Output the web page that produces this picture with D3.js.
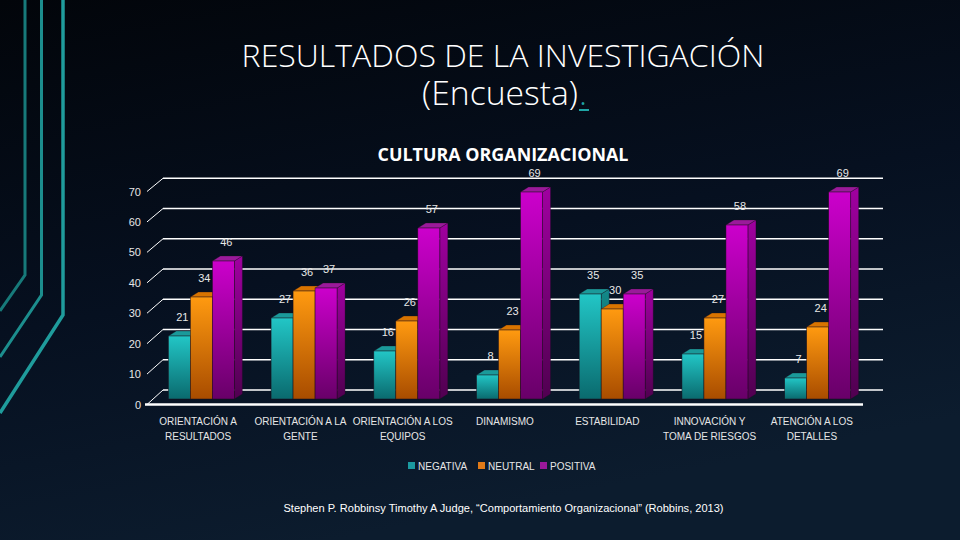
<!DOCTYPE html>
<html><head><meta charset="utf-8">
<script src="https://cdnjs.cloudflare.com/ajax/libs/d3/7.8.5/d3.min.js"></script>
<style>html,body{margin:0;padding:0;background:#050b15;}svg{display:block;}</style>
</head><body>
<svg id="c" width="960" height="540"></svg>
<script>
// ---- data ----
const categories = [
  ["ORIENTACIÓN A", "RESULTADOS"],
  ["ORIENTACIÓN A LA", "GENTE"],
  ["ORIENTACIÓN A LOS", "EQUIPOS"],
  ["DINAMISMO"],
  ["ESTABILIDAD"],
  ["INNOVACIÓN Y", "TOMA DE RIESGOS"],
  ["ATENCIÓN A LOS", "DETALLES"]
];
const seriesNames = ["NEGATIVA", "NEUTRAL", "POSITIVA"];
const negativa = [21, 27, 16, 8, 35, 15, 7];
const neutral  = [34, 36, 26, 23, 30, 27, 24];
const positiva = [46, 37, 57, 69, 35, 58, 69];
const yTicks = [0, 10, 20, 30, 40, 50, 60, 70];
const titleLines = ["RESULTADOS DE LA INVESTIGACIÓN", "(Encuesta)"];
const chartTitle = "CULTURA ORGANIZACIONAL";
const sourceText = "Stephen P. Robbinsy Timothy A Judge, “Comportamiento Organizacional” (Robbins, 2013)";

const seriesValues = [negativa, neutral, positiva];
const colors = [
  {front:["#22c6c6","#0a6a6e"], side:["#138a8a","#064a4e"], top:"#1a9a9a", legend:"#1b9aa0"},
  {front:["#ff9a10","#a84c00"], side:["#c86800","#7a3600"], top:"#d87400", legend:"#e07a18"},
  {front:["#cc00cc","#680068"], side:["#a000a0","#500050"], top:"#9a1a9a", legend:"#9a189a"}
];

const svg = d3.select("#c");
const defs = svg.append("defs");

// background
const bg = defs.append("linearGradient").attr("id","bg").attr("x1","0").attr("y1","0").attr("x2","0.35").attr("y2","1");
bg.append("stop").attr("offset","0").attr("stop-color","#02050a");
bg.append("stop").attr("offset","0.55").attr("stop-color","#061020");
bg.append("stop").attr("offset","1").attr("stop-color","#0c1c2e");
svg.append("rect").attr("width",960).attr("height",540).attr("fill","url(#bg)");

// decorative lines on left
const deco = [
  {pts:[[25,0],[25,275],[0,311]], c:"#177a7a", w:3},
  {pts:[[41.5,0],[41.5,295],[0,357]], c:"#1c8e8e", w:3},
  {pts:[[63,0],[63,315],[0,413]], c:"#1f9c9c", w:3.5}
];
deco.forEach(d => svg.append("path").attr("d", d3.line()(d.pts)).attr("fill","none")
  .attr("stroke", d.c).attr("stroke-width", d.w));

// gradients for bars
colors.forEach((c,i) => {
  const g = defs.append("linearGradient").attr("id","f"+i).attr("x1",0).attr("y1",0).attr("x2",0).attr("y2",1);
  g.append("stop").attr("offset",0).attr("stop-color",c.front[0]);
  g.append("stop").attr("offset",1).attr("stop-color",c.front[1]);
  const s = defs.append("linearGradient").attr("id","s"+i).attr("x1",0).attr("y1",0).attr("x2",0).attr("y2",1);
  s.append("stop").attr("offset",0).attr("stop-color",c.side[0]);
  s.append("stop").attr("offset",1).attr("stop-color",c.side[1]);
});

// helper to fit text to a target width
function fit(sel, width) {
  const n = sel.node();
  const w = n.getComputedTextLength();
  const fs = parseFloat(sel.attr("font-size"));
  sel.attr("font-size", fs * width / w);
}

// titles
const tFont = "'Open Sans', 'Noto Sans', sans-serif";
const t1 = svg.append("text").attr("x",503).attr("y",67).attr("text-anchor","middle")
  .attr("font-family",tFont).attr("font-weight",300).attr("font-size",36).attr("fill","#ffffff").text(titleLines[0]);
fit(t1, 523);
const t2 = svg.append("text").attr("x",500).attr("y",105).attr("text-anchor","middle")
  .attr("font-family",tFont).attr("font-weight",300).attr("font-size",36).attr("fill","#ffffff").text(titleLines[1]);
fit(t2, 156);
const t2box = t2.node().getBBox();
svg.append("text").attr("x", t2box.x + t2box.width + 1).attr("y",105)
  .attr("font-family",tFont).attr("font-weight",300).attr("font-size",t2.attr("font-size")).attr("fill","#1fa5a5").text(".");
svg.append("line").attr("x1", t2box.x + t2box.width + 1).attr("x2", t2box.x + t2box.width + 11)
  .attr("y1",110).attr("y2",110).attr("stroke","#1fa5a5").attr("stroke-width",2);

const ct = svg.append("text").attr("x",503).attr("y",161).attr("text-anchor","middle")
  .attr("font-family","'Open Sans', sans-serif").attr("font-weight",700).attr("font-size",17).attr("fill","#ffffff").text(chartTitle);
fit(ct, 251);

// scales
const yBack = d3.scaleLinear().domain([0,70]).range([390,178.3]);
const yFront = d3.scaleLinear().domain([0,70]).range([404.5,191.5]);
const yBar = d3.scaleLinear().domain([0,70]).range([399,189]);
const xBack0 = 163, xBack1 = 883, xFront0 = 147, xFront1 = 863;
const xBand = d3.scaleBand().domain(d3.range(categories.length)).range([150,869]);
const xSeries = d3.scaleBand().domain(d3.range(seriesNames.length)).range([0,66]);
const xLabel = d3.scaleBand().domain(d3.range(categories.length)).range([xFront0, xFront1]);

// grid (back wall)
const grid = svg.append("g");
yTicks.forEach(v => {
  grid.append("line").attr("x1",xBack0).attr("x2",xBack1).attr("y1",yBack(v)).attr("y2",yBack(v))
    .attr("stroke","#ffffff").attr("stroke-width",1.4);
  grid.append("line").attr("x1",xFront0).attr("x2",xBack0).attr("y1",yFront(v)).attr("y2",yBack(v))
    .attr("stroke","#ffffff").attr("stroke-width",1);
  grid.append("text").attr("x",141).attr("y",yFront(v)+4).attr("text-anchor","end")
    .attr("font-family","'Liberation Sans', sans-serif").attr("font-size",11).attr("fill","#e6e6e6").text(v);
});

// bars
const dx = 8, dy = 5;
const bw = xSeries.bandwidth();
const barsG = svg.append("g");
const labelsG = svg.append("g");
categories.forEach((cat, ci) => {
  const gx = xBand(ci) + (xBand.bandwidth() - 66) / 2;
  seriesValues.forEach((vals, si) => {
    const v = vals[ci];
    const x = gx + xSeries(si);
    const top = yBar(v), base = yBar(0);
    // side face
    barsG.append("path").attr("d", d3.line()([[x+bw,top],[x+bw+dx,top-dy],[x+bw+dx,base-dy],[x+bw,base]]) + "Z")
      .attr("fill","url(#s"+si+")").attr("stroke","#1a0d1a").attr("stroke-width",0.5).attr("stroke-opacity",0.6);
    // top face
    barsG.append("path").attr("d", d3.line()([[x,top],[x+dx,top-dy],[x+bw+dx,top-dy],[x+bw,top]]) + "Z")
      .attr("fill",colors[si].top).attr("stroke","#1a0d1a").attr("stroke-width",0.5).attr("stroke-opacity",0.6);
    // front face
    barsG.append("rect").attr("x",x).attr("y",top).attr("width",bw).attr("height",base-top)
      .attr("fill","url(#f"+si+")").attr("stroke","#1a0d1a").attr("stroke-width",0.7).attr("stroke-opacity",0.7);
    // data label
    labelsG.append("text").attr("x", x + bw/2 + 3).attr("y", top - 15).attr("text-anchor","middle")
      .attr("font-family","'Liberation Sans', sans-serif").attr("font-size",11).attr("fill","#e8e8e8").text(v);
  });
});

// front base line
svg.append("line").attr("x1",xFront0-2).attr("x2",xFront1).attr("y1",yFront(0)).attr("y2",yFront(0))
  .attr("stroke","#ffffff").attr("stroke-width",2.5);

// category labels
categories.forEach((lines, ci) => {
  const cx = xLabel(ci) + xLabel.bandwidth()/2;
  const t = svg.append("text").attr("text-anchor","middle")
    .attr("font-family","'Liberation Sans', sans-serif").attr("font-size",10).attr("fill","#e6e6e6");
  lines.forEach((ln, li) => t.append("tspan").attr("x",cx).attr("y",425 + li*15).text(ln));
});

// legend
const legendX = [408, 478, 540];
seriesNames.forEach((n, i) => {
  svg.append("rect").attr("x",legendX[i]).attr("y",462).attr("width",7).attr("height",7).attr("fill",colors[i].legend);
  svg.append("text").attr("x",legendX[i]+10).attr("y",469.5)
    .attr("font-family","'Liberation Sans', sans-serif").attr("font-size",10).attr("fill","#e6e6e6").text(n);
});

// source
const src = svg.append("text").attr("x",503.5).attr("y",512).attr("text-anchor","middle")
  .attr("font-family","'Liberation Sans', sans-serif").attr("font-size",10).attr("fill","#ffffff").text(sourceText);
fit(src, 441);
</script>
</body></html>
